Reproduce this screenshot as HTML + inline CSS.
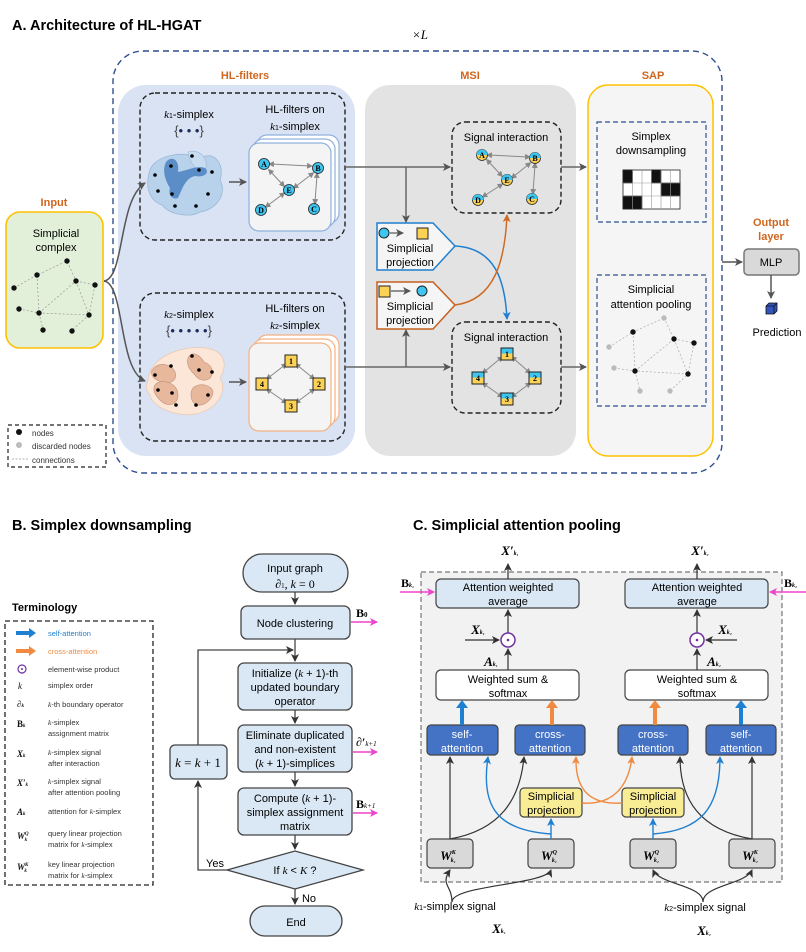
<!DOCTYPE html>
<html><head><meta charset="utf-8"><style>
body{margin:0;background:#fff}
svg{display:block;font-family:"Liberation Sans",sans-serif}
.s{font-family:"Liberation Serif",serif;font-style:italic}
.b{font-weight:bold}
</style></head><body>
<svg width="806" height="952" viewBox="0 0 806 952" xmlns="http://www.w3.org/2000/svg">
<defs>
<marker id="ag" markerWidth="8" markerHeight="8" refX="7" refY="4" orient="auto" markerUnits="userSpaceOnUse"><path d="M0,0 L8,4 L0,8 L2,4z" fill="#555"/></marker>
<marker id="ak" markerWidth="8" markerHeight="8" refX="7" refY="4" orient="auto" markerUnits="userSpaceOnUse"><path d="M0,0 L8,4 L0,8 L2,4z" fill="#333"/></marker>
<marker id="am" markerWidth="8" markerHeight="8" refX="7" refY="4" orient="auto" markerUnits="userSpaceOnUse"><path d="M0,0 L8,4 L0,8 L2,4z" fill="#ee44cc"/></marker>
<marker id="ab" markerWidth="8" markerHeight="8" refX="7" refY="4" orient="auto" markerUnits="userSpaceOnUse"><path d="M0,0 L8,4 L0,8 L2,4z" fill="#1f7fd0"/></marker>
<marker id="ao" markerWidth="8" markerHeight="8" refX="7" refY="4" orient="auto" markerUnits="userSpaceOnUse"><path d="M0,0 L8,4 L0,8 L2,4z" fill="#d06a20"/></marker>
<marker id="ao2" markerWidth="8" markerHeight="8" refX="7" refY="4" orient="auto" markerUnits="userSpaceOnUse"><path d="M0,0 L8,4 L0,8 L2,4z" fill="#f08a40"/></marker>
<marker id="dd" markerWidth="6" markerHeight="6" refX="3" refY="3" orient="auto" markerUnits="userSpaceOnUse"><path d="M0,0 L6,3 L0,6z" fill="#888"/></marker>
<marker id="ds" markerWidth="6" markerHeight="6" refX="3" refY="3" orient="auto-start-reverse" markerUnits="userSpaceOnUse"><path d="M0,0 L6,3 L0,6z" fill="#888"/></marker>
</defs>

<!-- ===== PART A ===== -->
<text x="12" y="30" font-size="14.5" class="b">A.  Architecture of HL-HGAT</text>
<text x="412" y="39" font-size="13" class="s">×L</text>
<rect x="113" y="51" width="609" height="422" rx="30" fill="none" stroke="#2f4f8f" stroke-width="1.4" stroke-dasharray="6,4"/>

<!-- HL-filters -->
<text x="245" y="79" font-size="11" class="b" fill="#d0661e" text-anchor="middle">HL-filters</text>
<rect x="118" y="85" width="237" height="371" rx="28" fill="#dae3f3"/>
<rect x="140" y="93" width="205" height="147" rx="15" fill="none" stroke="#222" stroke-width="1.4" stroke-dasharray="5,3"/>
<rect x="140" y="293" width="205" height="148" rx="15" fill="none" stroke="#222" stroke-width="1.4" stroke-dasharray="5,3"/>
<text x="189" y="118" font-size="11" text-anchor="middle"><tspan class="s">k</tspan><tspan font-size="7">1</tspan>-simplex</text>
<text x="189" y="135" font-size="13" text-anchor="middle" fill="#444">{<tspan fill="#1a2a5a">• • •</tspan>}</text>
<text x="295" y="113" font-size="11" text-anchor="middle">HL-filters on</text>
<text x="295" y="130" font-size="11" text-anchor="middle"><tspan class="s">k</tspan><tspan font-size="7">1</tspan>-simplex</text>
<text x="189" y="318" font-size="11" text-anchor="middle"><tspan class="s">k</tspan><tspan font-size="7">2</tspan>-simplex</text>
<text x="189" y="335" font-size="13" text-anchor="middle" fill="#444">{<tspan fill="#1a2a5a">• • • • •</tspan>}</text>
<text x="295" y="312" font-size="11" text-anchor="middle">HL-filters on</text>
<text x="295" y="329" font-size="11" text-anchor="middle"><tspan class="s">k</tspan><tspan font-size="7">2</tspan>-simplex</text>

<!-- blob 1 -->
<g>
<path d="M150,170 C155,155 185,150 200,158 C215,150 225,165 220,180 C228,195 215,210 200,212 C190,218 170,215 162,205 C148,200 145,185 150,170z" fill="#b9d2ec" stroke="#9ab8d8" stroke-width="0.8"/>
<path d="M188,152 C200,148 210,160 205,170 C200,175 190,165 188,152z" fill="#c8dcf0" stroke="#9ab8d8" stroke-width="0.6"/>
<path d="M166,162 C172,155 180,160 178,172 C188,170 198,165 205,168 C210,172 205,178 195,176 C185,178 182,190 178,198 C172,200 168,195 170,188 C165,180 162,170 166,162z" fill="#5b8ec6"/>
<circle cx="192" cy="156" r="1.8"/><circle cx="171" cy="166" r="1.8"/><circle cx="199" cy="170" r="1.8"/><circle cx="212" cy="172" r="1.8"/><circle cx="155" cy="175" r="1.8"/><circle cx="158" cy="191" r="1.8"/><circle cx="172" cy="194" r="1.8"/><circle cx="175" cy="206" r="1.8"/><circle cx="196" cy="206" r="1.8"/><circle cx="208" cy="194" r="1.8"/>
</g>
<line x1="229" y1="182" x2="246" y2="182" stroke="#555" stroke-width="1.5" marker-end="url(#ag)"/>
<!-- card stack 1 -->
<rect x="257" y="135" width="82" height="88" rx="10" fill="#fff" stroke="#8fb0dc" stroke-width="1.2"/>
<rect x="253" y="139" width="82" height="88" rx="10" fill="#fff" stroke="#8fb0dc" stroke-width="1.2"/>
<rect x="249" y="143" width="82" height="88" rx="10" fill="#f4f4f4" stroke="#8fb0dc" stroke-width="1.2"/>
<g stroke="#888" stroke-width="1" marker-end="url(#dd)" marker-start="url(#ds)">
<line x1="271" y1="164" x2="310" y2="166"/><line x1="270" y1="171" x2="283" y2="185"/><line x1="295" y1="187" x2="312" y2="174"/><line x1="317" y1="175" x2="315" y2="202"/><line x1="283" y1="194" x2="267" y2="206"/>
</g>
<g font-family="Liberation Serif" font-size="8" font-weight="bold" text-anchor="middle">
<circle cx="264" cy="164" r="5.5" fill="#3ec6f0" stroke="#222" stroke-width="0.8"/><text x="264" y="167">A</text>
<circle cx="318" cy="168" r="5.5" fill="#3ec6f0" stroke="#222" stroke-width="0.8"/><text x="318" y="171">B</text>
<circle cx="289" cy="190" r="5.5" fill="#3ec6f0" stroke="#222" stroke-width="0.8"/><text x="289" y="193">E</text>
<circle cx="261" cy="210" r="5.5" fill="#3ec6f0" stroke="#222" stroke-width="0.8"/><text x="261" y="213">D</text>
<circle cx="314" cy="209" r="5.5" fill="#3ec6f0" stroke="#222" stroke-width="0.8"/><text x="314" y="212">C</text>
</g>

<!-- blob 2 -->
<path d="M148,380 C150,355 185,345 205,348 C225,350 228,365 220,378 C228,390 218,410 195,414 C175,418 150,405 150,395 C145,390 146,385 148,380z" fill="#fbe6d8" stroke="#e8c8b0" stroke-width="0.7"/>
<ellipse cx="185" cy="382" rx="13" ry="11" fill="#fbe6d8"/>
<path d="M152,370 C160,360 172,365 175,372 C178,380 170,385 162,382 C155,380 150,376 152,370z" fill="#e7b89c" stroke="#c09078" stroke-width="0.6"/>
<path d="M155,385 C160,378 178,382 178,395 C178,405 168,408 160,400 C155,395 152,390 155,385z" fill="#e7b89c" stroke="#c09078" stroke-width="0.6"/>
<path d="M188,358 C192,350 200,355 204,362 C212,365 215,372 210,378 C205,382 198,380 195,375 C190,370 186,365 188,358z" fill="#e7b89c" stroke="#c09078" stroke-width="0.6"/>
<path d="M193,388 C200,382 212,385 213,392 C212,402 200,408 195,404 C190,400 190,392 193,388z" fill="#e7b89c" stroke="#c09078" stroke-width="0.6"/>
<circle cx="171" cy="366" r="1.8"/><circle cx="155" cy="375" r="1.8"/><circle cx="158" cy="390" r="1.8"/><circle cx="172" cy="393" r="1.8"/><circle cx="176" cy="405" r="1.8"/><circle cx="192" cy="356" r="1.8"/><circle cx="199" cy="370" r="1.8"/><circle cx="212" cy="372" r="1.8"/><circle cx="208" cy="395" r="1.8"/><circle cx="196" cy="405" r="1.8"/>
<line x1="229" y1="382" x2="246" y2="382" stroke="#555" stroke-width="1.5" marker-end="url(#ag)"/>
<!-- card stack 2 -->
<rect x="257" y="335" width="82" height="88" rx="10" fill="#fff" stroke="#f4b183" stroke-width="1.2"/>
<rect x="253" y="339" width="82" height="88" rx="10" fill="#fff" stroke="#f4b183" stroke-width="1.2"/>
<rect x="249" y="343" width="82" height="88" rx="10" fill="#f4f4f4" stroke="#f4b183" stroke-width="1.2"/>
<g stroke="#888" stroke-width="1" marker-end="url(#dd)" marker-start="url(#ds)">
<line x1="285" y1="365" x2="268" y2="378"/><line x1="297" y1="365" x2="313" y2="378"/><line x1="268" y1="390" x2="285" y2="402"/><line x1="313" y1="390" x2="297" y2="402"/>
</g>
<g font-family="Liberation Serif" font-size="8" font-weight="bold" text-anchor="middle">
<rect x="285" y="355" width="12" height="12" fill="#fcd256" stroke="#222"/><text x="291" y="364">1</text>
<rect x="256" y="378" width="12" height="12" fill="#fcd256" stroke="#222"/><text x="262" y="387">4</text>
<rect x="313" y="378" width="12" height="12" fill="#fcd256" stroke="#222"/><text x="319" y="387">2</text>
<rect x="285" y="400" width="12" height="12" fill="#fcd256" stroke="#222"/><text x="291" y="409">3</text>
</g>

<!-- Input -->
<text x="54" y="206" font-size="11" class="b" fill="#d0661e" text-anchor="middle">Input</text>
<rect x="6" y="212" width="97" height="136" rx="14" fill="#e2efd9" stroke="#ffc000" stroke-width="1.6"/>
<text x="56" y="237" font-size="11" text-anchor="middle">Simplicial</text>
<text x="56" y="251" font-size="11" text-anchor="middle">complex</text>
<g stroke="#999" stroke-width="0.7" stroke-dasharray="2,2" fill="none">
<path d="M14,288 L37,275 L67,261"/><path d="M37,275 L39,313"/><path d="M76,281 L95,285 L89,315"/><path d="M19,309 L39,313 L89,315"/><path d="M39,313 L76,281 L67,261"/><path d="M76,281 L89,315 L72,330"/><path d="M39,313 L43,330"/>
</g>
<g fill="#111"><circle cx="67" cy="261" r="2.7"/><circle cx="37" cy="275" r="2.7"/><circle cx="14" cy="288" r="2.7"/><circle cx="76" cy="281" r="2.7"/><circle cx="95" cy="285" r="2.7"/><circle cx="19" cy="309" r="2.7"/><circle cx="39" cy="313" r="2.7"/><circle cx="89" cy="315" r="2.7"/><circle cx="43" cy="330" r="2.7"/><circle cx="72" cy="331" r="2.7"/></g>
<path d="M104,281 C125,278 118,200 145,183" fill="none" stroke="#555" stroke-width="1.5" marker-end="url(#ag)"/>
<path d="M104,281 C125,284 118,370 145,381" fill="none" stroke="#555" stroke-width="1.5" marker-end="url(#ag)"/>

<!-- legend -->
<rect x="8" y="425" width="98" height="42" fill="#fff" stroke="#222" stroke-width="1.2" stroke-dasharray="4,3"/>
<circle cx="19" cy="432" r="3" fill="#111"/><text x="32" y="436" font-size="8" fill="#333">nodes</text>
<circle cx="19" cy="445" r="3" fill="#bbb"/><text x="32" y="449" font-size="8" fill="#333">discarded nodes</text>
<line x1="12" y1="459" x2="29" y2="459" stroke="#999" stroke-width="0.8" stroke-dasharray="2,1.5"/><text x="32" y="463" font-size="8" fill="#333">connections</text>

<!-- MSI -->
<text x="470" y="79" font-size="11" class="b" fill="#d0661e" text-anchor="middle">MSI</text>
<rect x="365" y="85" width="211" height="371" rx="25" fill="#e3e3e3"/>
<rect x="452" y="122" width="109" height="91" rx="13" fill="none" stroke="#222" stroke-width="1.4" stroke-dasharray="5,3"/>
<text x="506" y="141" font-size="11" text-anchor="middle">Signal interaction</text>
<rect x="452" y="322" width="109" height="91" rx="13" fill="none" stroke="#222" stroke-width="1.4" stroke-dasharray="5,3"/>
<text x="506" y="341" font-size="11" text-anchor="middle">Signal interaction</text>
<g stroke="#888" stroke-width="1" marker-end="url(#dd)" marker-start="url(#ds)">
<line x1="489" y1="155" x2="528" y2="157"/><line x1="488" y1="161" x2="501" y2="175"/><line x1="513" y1="177" x2="529" y2="164"/><line x1="535" y1="165" x2="533" y2="192"/><line x1="501" y1="185" x2="484" y2="196"/>
<line x1="501" y1="358" x2="484" y2="372"/><line x1="513" y1="358" x2="529" y2="372"/><line x1="484" y1="384" x2="501" y2="396"/><line x1="529" y1="384" x2="513" y2="396"/>
</g>
<g font-family="Liberation Serif" font-size="8" font-weight="bold" text-anchor="middle">
<g><circle cx="482" cy="155" r="5.5" fill="#fcd256" stroke="#222" stroke-width="0.8"/><path d="M476.5,155 A5.5,5.5 0 0 1 487.5,155z" fill="#3ec6f0"/><text x="482" y="158">A</text></g>
<g><circle cx="535" cy="158" r="5.5" fill="#fcd256" stroke="#222" stroke-width="0.8"/><path d="M529.5,158 A5.5,5.5 0 0 1 540.5,158z" fill="#3ec6f0"/><text x="535" y="161">B</text></g>
<g><circle cx="507" cy="180" r="5.5" fill="#fcd256" stroke="#222" stroke-width="0.8"/><path d="M501.5,180 A5.5,5.5 0 0 1 512.5,180z" fill="#3ec6f0"/><text x="507" y="183">E</text></g>
<g><circle cx="478" cy="200" r="5.5" fill="#fcd256" stroke="#222" stroke-width="0.8"/><path d="M472.5,200 A5.5,5.5 0 0 1 483.5,200z" fill="#3ec6f0"/><text x="478" y="203">D</text></g>
<g><circle cx="532" cy="199" r="5.5" fill="#fcd256" stroke="#222" stroke-width="0.8"/><path d="M526.5,199 A5.5,5.5 0 0 1 537.5,199z" fill="#3ec6f0"/><text x="532" y="202">C</text></g>
<g><rect x="501" y="348" width="12" height="12" fill="#fcd256" stroke="#222"/><rect x="501.5" y="348.5" width="11" height="5" fill="#3ec6f0"/><text x="507" y="357">1</text></g>
<g><rect x="472" y="372" width="12" height="12" fill="#fcd256" stroke="#222"/><rect x="472.5" y="372.5" width="11" height="5" fill="#3ec6f0"/><text x="478" y="381">4</text></g>
<g><rect x="529" y="372" width="12" height="12" fill="#fcd256" stroke="#222"/><rect x="529.5" y="372.5" width="11" height="5" fill="#3ec6f0"/><text x="535" y="381">2</text></g>
<g><rect x="501" y="393" width="12" height="12" fill="#fcd256" stroke="#222"/><rect x="501.5" y="393.5" width="11" height="5" fill="#3ec6f0"/><text x="507" y="402">3</text></g>
</g>
<!-- lines from HL to MSI -->
<line x1="345" y1="167" x2="450" y2="167" stroke="#666" stroke-width="1.5" marker-end="url(#ag)"/>
<line x1="406" y1="167" x2="406" y2="222" stroke="#666" stroke-width="1.5" marker-end="url(#ag)"/>
<line x1="345" y1="367" x2="450" y2="367" stroke="#666" stroke-width="1.5" marker-end="url(#ag)"/>
<line x1="406" y1="367" x2="406" y2="330" stroke="#666" stroke-width="1.5" marker-end="url(#ag)"/>
<!-- projection boxes -->
<path d="M377,223 L433,223 L455,246 L433,270 L377,270z" fill="#f5f5f5" stroke="#1f7fd0" stroke-width="1.5"/>
<circle cx="384" cy="233" r="5" fill="#3ec6f0" stroke="#222"/><line x1="390" y1="233" x2="403" y2="233" stroke="#555" stroke-width="1.2" marker-end="url(#ag)"/><rect x="417" y="228" width="11" height="11" fill="#fcd256" stroke="#222"/>
<text x="410" y="252" font-size="11" text-anchor="middle">Simplicial</text><text x="410" y="266" font-size="11" text-anchor="middle">projection</text>
<path d="M377,282 L433,282 L455,305 L433,329 L377,329z" fill="#f5f5f5" stroke="#c5601e" stroke-width="1.5"/>
<rect x="379" y="286" width="11" height="11" fill="#fcd256" stroke="#222"/><line x1="391" y1="291" x2="410" y2="291" stroke="#555" stroke-width="1.2" marker-end="url(#ag)"/><circle cx="422" cy="291" r="5" fill="#3ec6f0" stroke="#222"/>
<text x="410" y="310" font-size="11" text-anchor="middle">Simplicial</text><text x="410" y="324" font-size="11" text-anchor="middle">projection</text>
<path d="M455,246 C495,248 505,280 507,319" fill="none" stroke="#1f7fd0" stroke-width="1.5" marker-end="url(#ab)"/>
<path d="M455,305 C495,300 505,260 507,215" fill="none" stroke="#d06a20" stroke-width="1.5" marker-end="url(#ao)"/>
<line x1="561" y1="167" x2="586" y2="167" stroke="#666" stroke-width="1.5" marker-end="url(#ag)"/>
<line x1="561" y1="367" x2="586" y2="367" stroke="#666" stroke-width="1.5" marker-end="url(#ag)"/>

<!-- SAP -->
<text x="653" y="79" font-size="11" class="b" fill="#d0661e" text-anchor="middle">SAP</text>
<rect x="588" y="85" width="125" height="371" rx="20" fill="#f5f5f5" stroke="#ffc000" stroke-width="1.5"/>
<rect x="597" y="122" width="109" height="100" fill="none" stroke="#2f4f8f" stroke-width="1.2" stroke-dasharray="5,3"/>
<text x="651" y="140" font-size="11" text-anchor="middle">Simplex</text>
<text x="651" y="154" font-size="11" text-anchor="middle">downsampling</text>
<g stroke="#222" stroke-width="0.8">
<rect x="623" y="170" width="57" height="39" fill="#fff"/>
<rect x="623" y="170" width="9.5" height="13" fill="#111"/><rect x="651.5" y="170" width="9.5" height="13" fill="#111"/>
<rect x="661" y="183" width="9.5" height="13" fill="#111"/><rect x="670.5" y="183" width="9.5" height="13" fill="#111"/>
<rect x="623" y="196" width="9.5" height="13" fill="#111"/><rect x="632.5" y="196" width="9.5" height="13" fill="#111"/>
<path d="M632.5,170V209M642,170V209M651.5,170V209M661,170V209M670.5,170V209M623,183H680M623,196H680" fill="none" stroke="#999" stroke-width="0.6"/>
</g>
<rect x="597" y="275" width="109" height="131" fill="none" stroke="#2f4f8f" stroke-width="1.2" stroke-dasharray="5,3"/>
<text x="651" y="293" font-size="11" text-anchor="middle">Simplicial</text>
<text x="651" y="308" font-size="11" text-anchor="middle">attention pooling</text>
<g stroke="#aaa" stroke-width="0.7" stroke-dasharray="2,2" fill="none">
<path d="M609,347 L633,332 L664,318"/><path d="M633,332 L635,371"/><path d="M674,339 L694,343 L688,374"/><path d="M614,368 L635,371 L688,374"/><path d="M635,371 L674,339 L664,318"/><path d="M674,339 L688,374 L670,391"/><path d="M635,371 L640,391"/>
</g>
<g><circle cx="664" cy="318" r="2.7" fill="#bbb"/><circle cx="633" cy="332" r="2.7" fill="#111"/><circle cx="609" cy="347" r="2.7" fill="#bbb"/><circle cx="674" cy="339" r="2.7" fill="#111"/><circle cx="694" cy="343" r="2.7" fill="#111"/><circle cx="614" cy="368" r="2.7" fill="#bbb"/><circle cx="635" cy="371" r="2.7" fill="#111"/><circle cx="688" cy="374" r="2.7" fill="#111"/><circle cx="640" cy="391" r="2.7" fill="#bbb"/><circle cx="670" cy="391" r="2.7" fill="#bbb"/></g>

<!-- Output -->
<text x="771" y="226" font-size="11" class="b" fill="#d0661e" text-anchor="middle">Output</text>
<text x="771" y="240" font-size="11" class="b" fill="#d0661e" text-anchor="middle">layer</text>
<line x1="722" y1="262" x2="742" y2="262" stroke="#555" stroke-width="1.5" marker-end="url(#ag)"/>
<rect x="744" y="249" width="55" height="26" rx="4" fill="#d9d9d9" stroke="#777" stroke-width="1.5"/>
<text x="771" y="266" font-size="11" text-anchor="middle">MLP</text>
<line x1="771" y1="275" x2="771" y2="298" stroke="#555" stroke-width="1.5" marker-end="url(#ag)"/>
<path d="M766,306 L769,303 L777,303 L777,311 L774,314 L766,314z" fill="#3355bb" stroke="#111" stroke-width="0.8"/><path d="M766,306 L774,306 L774,314 M774,306 L777,303" fill="none" stroke="#111" stroke-width="0.8"/>
<text x="777" y="336" font-size="11" text-anchor="middle">Prediction</text>

<!-- ===== PART B ===== -->
<text x="12" y="530" font-size="14.5" class="b">B.  Simplex downsampling</text>
<text x="12" y="611" font-size="11" class="b">Terminology</text>
<rect x="5" y="621" width="148" height="264" fill="none" stroke="#222" stroke-width="1.3" stroke-dasharray="5,3"/>
<g font-size="7.5" fill="#333">
<line x1="16" y1="633" x2="30" y2="633" stroke="#1f7fd0" stroke-width="4"/><path d="M29,628 L36,633 L29,638z" fill="#1f7fd0"/><text x="48" y="636" fill="#1f7fd0">self-attention</text>
<line x1="16" y1="651" x2="30" y2="651" stroke="#f08a40" stroke-width="4"/><path d="M29,646 L36,651 L29,656z" fill="#f08a40"/><text x="48" y="654" fill="#f08a40">cross-attention</text>
<circle cx="22" cy="669" r="4" fill="none" stroke="#7030a0" stroke-width="1.2"/><circle cx="22" cy="669" r="1" fill="#7030a0"/><text x="48" y="672">element-wise product</text>
<text x="18" y="689" class="s" font-size="9" fill="#111">k</text><text x="48" y="688">simplex order</text>
<text x="17" y="707" class="s b" font-size="9" fill="#111">∂<tspan font-size="5">k</tspan></text><text x="48" y="707"><tspan class="s">k</tspan>-th boundary operator</text>
<text x="17" y="727" class="b" font-family="Liberation Serif" font-size="9" fill="#111">B<tspan font-size="5" class="s">k</tspan></text><text x="48" y="725"><tspan class="s">k</tspan>-simplex</text><text x="48" y="736">assignment matrix</text>
<text x="17" y="757" class="s b" font-size="9" fill="#111">X<tspan font-size="5">k</tspan></text><text x="48" y="755"><tspan class="s">k</tspan>-simplex signal</text><text x="48" y="766">after interaction</text>
<text x="17" y="786" class="s b" font-size="9" fill="#111">X′<tspan font-size="5">k</tspan></text><text x="48" y="784"><tspan class="s">k</tspan>-simplex signal</text><text x="48" y="795">after attention pooling</text>
<text x="17" y="815" class="s b" font-size="9" fill="#111">A<tspan font-size="5">k</tspan></text><text x="48" y="814">attention for <tspan class="s">k</tspan>-simplex</text>
<text x="17" y="839" class="s b" font-size="9" fill="#111">W<tspan font-size="5" dy="-4">Q</tspan><tspan font-size="5" dx="-4" dy="6">k</tspan></text><text x="48" y="836">query linear projection</text><text x="48" y="847">matrix for <tspan class="s">k</tspan>-simplex</text>
<text x="17" y="870" class="s b" font-size="9" fill="#111">W<tspan font-size="5" dy="-4">K</tspan><tspan font-size="5" dx="-4" dy="6">k</tspan></text><text x="48" y="867">key linear projection</text><text x="48" y="878">matrix for <tspan class="s">k</tspan>-simplex</text>
</g>

<!-- flowchart -->
<g stroke="#444" stroke-width="1.3" fill="#dae8f5">
<rect x="243" y="554" width="105" height="38" rx="19"/>
<rect x="241" y="606" width="109" height="33" rx="6"/>
<rect x="238" y="663" width="114" height="47" rx="6"/>
<rect x="238" y="725" width="114" height="47" rx="6"/>
<rect x="238" y="788" width="114" height="47" rx="6"/>
<path d="M227,870 L295,851 L363,870 L295,889z"/>
<rect x="250" y="906" width="92" height="30" rx="15"/>
<rect x="170" y="745" width="57" height="34" rx="5"/>
</g>
<g font-size="11" text-anchor="middle">
<text x="295" y="572">Input graph</text>
<text x="295" y="588" font-family="Liberation Serif" font-size="12"><tspan class="b s">∂</tspan><tspan font-size="7">1</tspan>,  <tspan class="s">k</tspan> = 0</text>
<text x="295" y="627">Node clustering</text>
<text x="295" y="677">Initialize (<tspan class="s">k</tspan> + 1)-th</text><text x="295" y="691">updated boundary</text><text x="295" y="705">operator</text>
<text x="295" y="739">Eliminate duplicated</text><text x="295" y="753">and non-existent</text><text x="295" y="767">(<tspan class="s">k</tspan> + 1)-simplices</text>
<text x="295" y="802">Compute (<tspan class="s">k</tspan> + 1)-</text><text x="295" y="816">simplex assignment</text><text x="295" y="830">matrix</text>
<text x="295" y="874">If <tspan class="s">k</tspan> &lt; <tspan class="s">K</tspan> ?</text>
<text x="296" y="926">End</text>
<text x="198" y="767" font-family="Liberation Serif" font-size="13"><tspan class="s">k</tspan> = <tspan class="s">k</tspan> + 1</text>
<text x="215" y="867">Yes</text>
<text x="309" y="902">No</text>
</g>
<g stroke="#444" stroke-width="1.3" fill="none">
<line x1="295" y1="592" x2="295" y2="604" marker-end="url(#ak)"/>
<line x1="295" y1="639" x2="295" y2="661" marker-end="url(#ak)"/>
<line x1="295" y1="710" x2="295" y2="723" marker-end="url(#ak)"/>
<line x1="295" y1="772" x2="295" y2="786" marker-end="url(#ak)"/>
<line x1="295" y1="835" x2="295" y2="849" marker-end="url(#ak)"/>
<line x1="295" y1="889" x2="295" y2="904" marker-end="url(#ak)"/>
<path d="M227,870 L198,870 L198,781" marker-end="url(#ak)"/>
<path d="M198,745 L198,650 L293,650" marker-end="url(#ak)"/>
</g>
<g stroke="#ee44cc" stroke-width="1.5">
<line x1="351" y1="622" x2="377" y2="622" marker-end="url(#am)"/>
<line x1="353" y1="752" x2="377" y2="752" marker-end="url(#am)"/>
<line x1="353" y1="813" x2="377" y2="813" marker-end="url(#am)"/>
</g>
<g font-family="Liberation Serif" font-size="12" class="b">
<text x="356" y="617">B<tspan font-size="7">0</tspan></text>
<text x="356" y="746" class="s">∂′<tspan font-size="7" font-weight="normal">k+1</tspan></text>
<text x="356" y="808">B<tspan font-size="7" class="s" font-weight="normal">k+1</tspan></text>
</g>

<!-- ===== PART C ===== -->
<text x="413" y="530" font-size="14.5" class="b">C.  Simplicial attention pooling</text>
<rect x="421" y="572" width="361" height="310" fill="#f2f2f2" stroke="#777" stroke-width="1.2" stroke-dasharray="5,3"/>
<g stroke="#444" stroke-width="1.2">
<rect x="436" y="579" width="143" height="29" rx="5" fill="#dae8f5"/>
<rect x="625" y="579" width="143" height="29" rx="5" fill="#dae8f5"/>
<rect x="436" y="670" width="143" height="30" rx="5" fill="#fff"/>
<rect x="625" y="670" width="143" height="30" rx="5" fill="#fff"/>
<rect x="427" y="725" width="71" height="30" rx="4" fill="#4472c4"/>
<rect x="515" y="725" width="70" height="30" rx="4" fill="#4472c4"/>
<rect x="618" y="725" width="70" height="30" rx="4" fill="#4472c4"/>
<rect x="706" y="725" width="70" height="30" rx="4" fill="#4472c4"/>
<rect x="520" y="788" width="62" height="29" rx="4" fill="#f8ec94"/>
<rect x="622" y="788" width="62" height="29" rx="4" fill="#f8ec94"/>
<rect x="427" y="839" width="46" height="29" rx="4" fill="#d9d9d9"/>
<rect x="528" y="839" width="46" height="29" rx="4" fill="#d9d9d9"/>
<rect x="630" y="839" width="46" height="29" rx="4" fill="#d9d9d9"/>
<rect x="729" y="839" width="46" height="29" rx="4" fill="#d9d9d9"/>
</g>
<g font-size="11" text-anchor="middle">
<text x="508" y="591">Attention weighted</text><text x="508" y="605">average</text>
<text x="697" y="591">Attention weighted</text><text x="697" y="605">average</text>
<text x="508" y="683">Weighted sum &amp;</text><text x="508" y="697">softmax</text>
<text x="697" y="683">Weighted sum &amp;</text><text x="697" y="697">softmax</text>
<g fill="#fff"><text x="462" y="738">self-</text><text x="462" y="752">attention</text>
<text x="550" y="738">cross-</text><text x="550" y="752">attention</text>
<text x="653" y="738">cross-</text><text x="653" y="752">attention</text>
<text x="741" y="738">self-</text><text x="741" y="752">attention</text></g>
<text x="551" y="800">Simplicial</text><text x="551" y="814">projection</text>
<text x="653" y="800">Simplicial</text><text x="653" y="814">projection</text>
<text x="455" y="910"><tspan class="s">k</tspan><tspan font-size="7">1</tspan>-simplex signal</text>
<text x="705" y="911"><tspan class="s">k</tspan><tspan font-size="7">2</tspan>-simplex signal</text>
</g>
<g font-family="Liberation Serif" font-style="italic" font-weight="bold" font-size="13" text-anchor="middle">
<text x="448" y="860">W<tspan font-size="6" dy="-6">K</tspan><tspan font-size="6" dx="-5" dy="8">k₁</tspan></text>
<text x="549" y="860">W<tspan font-size="6" dy="-6">Q</tspan><tspan font-size="6" dx="-5" dy="8">k₁</tspan></text>
<text x="651" y="860">W<tspan font-size="6" dy="-6">Q</tspan><tspan font-size="6" dx="-5" dy="8">k₂</tspan></text>
<text x="750" y="860">W<tspan font-size="6" dy="-6">K</tspan><tspan font-size="6" dx="-5" dy="8">k₂</tspan></text>
<text x="510" y="555">X′<tspan font-size="6">k₁</tspan></text>
<text x="700" y="555">X′<tspan font-size="6">k₂</tspan></text>
<text x="478" y="634">X<tspan font-size="6">k₁</tspan></text>
<text x="725" y="634">X<tspan font-size="6">k₂</tspan></text>
<text x="491" y="666">A<tspan font-size="6">k₁</tspan></text>
<text x="714" y="666">A<tspan font-size="6">k₂</tspan></text>
<text x="499" y="933">X<tspan font-size="6">k₁</tspan></text>
<text x="704" y="935">X<tspan font-size="6">k₂</tspan></text>
</g>
<g font-family="Liberation Serif" font-weight="bold" font-size="12">
<text x="401" y="587">B<tspan font-size="6" class="s">k₁</tspan></text>
<text x="784" y="587">B<tspan font-size="6" class="s">k₂</tspan></text>
</g>
<g stroke="#ee44cc" stroke-width="1.5">
<line x1="400" y1="592" x2="434" y2="592" marker-end="url(#am)"/>
<line x1="806" y1="592" x2="770" y2="592" marker-end="url(#am)"/>
</g>
<g stroke="#333" stroke-width="1.2" fill="none">
<line x1="508" y1="579" x2="508" y2="564" marker-end="url(#ak)"/>
<line x1="697" y1="579" x2="697" y2="564" marker-end="url(#ak)"/>
<line x1="508" y1="633" x2="508" y2="610" marker-end="url(#ak)"/>
<line x1="697" y1="633" x2="697" y2="610" marker-end="url(#ak)"/>
<line x1="508" y1="670" x2="508" y2="649" marker-end="url(#ak)"/>
<line x1="697" y1="670" x2="697" y2="649" marker-end="url(#ak)"/>
<line x1="465" y1="640" x2="499" y2="640" marker-end="url(#ak)"/>
<line x1="737" y1="640" x2="706" y2="640" marker-end="url(#ak)"/>
<line x1="450" y1="839" x2="450" y2="757" marker-end="url(#ak)"/>
<line x1="752" y1="839" x2="752" y2="757" marker-end="url(#ak)"/>
<path d="M450,839 C500,830 520,800 524,757" marker-end="url(#ak)"/>
<path d="M752,839 C700,830 680,800 680,757" marker-end="url(#ak)"/>
<path d="M452,902 C452,885 440,885 450,870" marker-end="url(#ak)"/>
<path d="M452,902 C452,885 545,885 551,870" marker-end="url(#ak)"/>
<path d="M703,902 C703,885 660,885 653,870" marker-end="url(#ak)"/>
<path d="M703,902 C703,885 745,885 752,870" marker-end="url(#ak)"/>
</g>
<circle cx="508" cy="640" r="7" fill="#fff" stroke="#7030a0" stroke-width="1.5"/><circle cx="508" cy="640" r="1.3" fill="#7030a0"/>
<circle cx="697" cy="640" r="7" fill="#fff" stroke="#7030a0" stroke-width="1.5"/><circle cx="697" cy="640" r="1.3" fill="#7030a0"/>
<g stroke="#1f7fd0" stroke-width="1.4" fill="none">
<line x1="551" y1="839" x2="551" y2="819" marker-end="url(#ab)"/>
<line x1="653" y1="839" x2="653" y2="819" marker-end="url(#ab)"/>
<path d="M551,834 C500,830 480,810 488,757" marker-end="url(#ab)"/>
<path d="M653,834 C700,830 720,810 720,757" marker-end="url(#ab)"/>
</g>
<g stroke="#f08a40" stroke-width="1.4" fill="none">
<path d="M582,803 C610,805 628,790 632,757" marker-end="url(#ao2)"/>
<path d="M622,803 C590,805 575,790 576,757" marker-end="url(#ao2)"/>
</g>
<g stroke-width="4">
<line x1="462" y1="725" x2="462" y2="707" stroke="#1f7fd0"/><path d="M456,708 L462,700 L468,708z" fill="#1f7fd0"/>
<line x1="552" y1="725" x2="552" y2="707" stroke="#f08a40"/><path d="M546,708 L552,700 L558,708z" fill="#f08a40"/>
<line x1="655" y1="725" x2="655" y2="707" stroke="#f08a40"/><path d="M649,708 L655,700 L661,708z" fill="#f08a40"/>
<line x1="741" y1="725" x2="741" y2="707" stroke="#1f7fd0"/><path d="M735,708 L741,700 L747,708z" fill="#1f7fd0"/>
</g>
</svg>
</body></html>
